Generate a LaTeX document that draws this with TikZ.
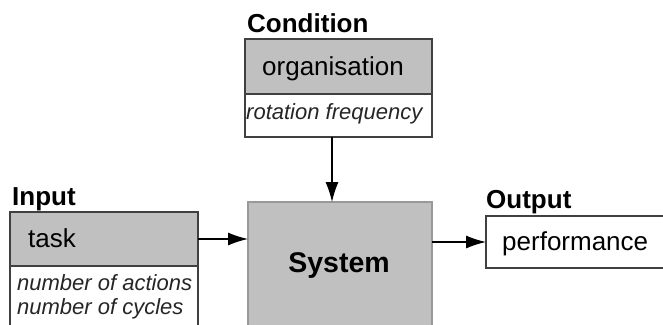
\documentclass[tikz,border=0pt]{standalone}
\usepackage{fontspec}
\setmainfont{Liberation Sans}
\usetikzlibrary{arrows.meta,calc}
\definecolor{boxgray}{HTML}{C0C0C0}
\definecolor{edgecol}{HTML}{404040}
\definecolor{sysedge}{HTML}{999999}
\begin{document}
\begin{tikzpicture}[x=1pt,y=-1pt,
  box/.style={draw=edgecol, line width=1.2pt, anchor=north west, inner sep=0pt, outer sep=0pt},
  graybox/.style={box, fill=boxgray},
  whitebox/.style={box, fill=white},
  head/.style={anchor=base west, inner sep=0pt, font=\fontsize{26}{30}\selectfont\bfseries},
  main/.style={anchor=base west, inner sep=0pt, font=\fontsize{26}{30}\selectfont},
  sub/.style={anchor=base west, inner sep=0pt, font=\fontsize{22}{26}\selectfont\itshape, text=black!85},
  conn/.style={line width=1.2pt, draw=black, -{Latex[length=20pt,width=13pt]}}]
\useasboundingbox (0,0) rectangle (663,324);
\fill[white] (0,0) rectangle (663,324);
\clip (0,0) rectangle (663,324);
% Input
\node[whitebox, minimum width=188pt, minimum height=80pt] (inw) at (10,266) {};
\node[graybox, minimum width=188pt, minimum height=54pt] (inb) at (10,212) {};
\node[head] (inlab) at (12,205) {Input};
\node[main] (task) at (28,247) {task};
\node[sub] (act) at (17,290) {number of actions};
\node[sub] (cyc) at (17,314) {number of cycles};
% Condition
\node[graybox, minimum width=187pt, minimum height=55pt] (condb) at (245,39) {};
\node[whitebox, minimum width=187pt, minimum height=43pt] (condw) at (245,94) {};
\node[head] (condlab) at (247,32) {Condition};
\node[main] (org) at (262,75) {organisation};
\node[sub] (rot) at (246,119) {rotation frequency};
% System
\node[box, draw=sysedge, fill=boxgray, minimum width=184pt, minimum height=140pt] (sys) at (248,202) {};
\node[anchor=base, inner sep=0pt, font=\fontsize{28.5}{32}\selectfont\bfseries] (systxt) at (339,272) {System};
% Output
\node[whitebox, minimum width=200pt, minimum height=52pt] (outb) at (486,216) {};
\node[head] (outlab) at (486,208) {Output};
\node[main] (perf) at (502,250) {performance};
% Connectors
\coordinate (ca) at ([xshift=-6.5pt]condw.south);
\draw[conn] (ca) -- (ca |- sys.north);
\draw[conn] (inb.east) -- (inb.east -| sys.west);
\draw[conn] (sys.east |- outb.west) -- (outb.west);
\end{tikzpicture}
\end{document}
